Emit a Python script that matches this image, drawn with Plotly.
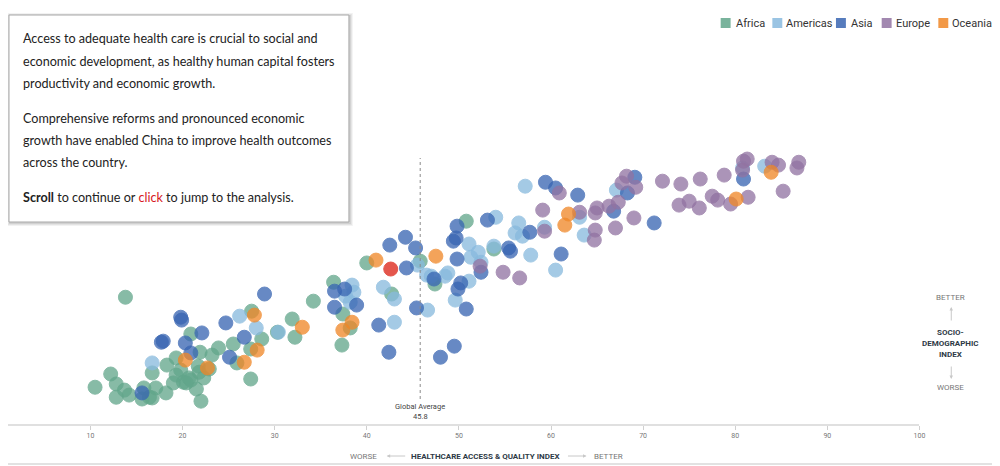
import plotly.graph_objects as go

# ---------------- data (HAQ index, socio-demographic index) ----------------
africa_haq = [13.8, 20.9, 21.9, 23.2, 19.3, 18.3, 21.7, 22.9, 19.8, 12.2, 16.7, 19.3, 21.8, 22.3,
              20.7, 20.1, 19.0, 12.8, 10.5, 17.1, 13.7, 15.8, 18.2, 21.5, 14.2, 16.4, 16.7, 12.8,
              15.6, 22.0, 20.4, 20.9, 27.5, 31.9, 30.3, 28.6, 32.2, 25.5, 23.9, 27.4, 25.9, 27.4,
              34.2, 36.4, 37.4, 38.2, 37.3, 42.7, 40.0, 45.8, 47.4, 50.8, 53.8]
africa_sdi = [0.488, 0.385, 0.334, 0.326, 0.318, 0.298, 0.295, 0.287, 0.284, 0.273, 0.276, 0.270,
              0.278, 0.262, 0.262, 0.250, 0.248, 0.245, 0.236, 0.234, 0.228, 0.234, 0.220, 0.231,
              0.214, 0.208, 0.206, 0.208, 0.203, 0.197, 0.248, 0.256, 0.449, 0.427, 0.390, 0.371,
              0.376, 0.357, 0.346, 0.343, 0.304, 0.259, 0.477, 0.530, 0.441, 0.402, 0.354, 0.497,
              0.584, 0.589, 0.525, 0.701, 0.623]

americas_haq = [16.7, 26.2, 28.0, 30.4, 38.4, 38.6, 37.7, 38.2, 43.0, 41.8, 43.0, 45.5, 46.5, 47.0,
                48.5, 48.8, 46.6, 51.1, 49.6, 51.1, 51.3, 52.1, 52.4, 53.8, 54.0, 56.5, 56.1, 56.9,
                57.8, 59.3, 60.5, 57.2, 63.1, 63.6, 67.1, 80.8, 83.2]
americas_sdi = [0.304, 0.435, 0.402, 0.390, 0.522, 0.502, 0.491, 0.474, 0.418, 0.516, 0.483, 0.578,
                0.550, 0.547, 0.547, 0.556, 0.452, 0.533, 0.480, 0.637, 0.600, 0.614, 0.586, 0.631,
                0.712, 0.696, 0.668, 0.659, 0.606, 0.684, 0.564, 0.799, 0.712, 0.662, 0.788, 0.850,
                0.855]

asia_haq = [19.8, 19.9, 17.7, 17.9, 20.3, 22.1, 20.9, 15.6, 28.9, 24.7, 26.7, 25.1, 36.5, 37.6,
            36.5, 38.9, 41.3, 42.4, 42.5, 44.2, 45.3, 44.3, 47.3, 45.4, 48.0, 49.5, 49.8, 49.4,
            49.7, 49.8, 50.2, 49.9, 50.8, 53.1, 52.4, 55.4, 55.6, 57.7, 61.1, 59.4, 60.5, 62.9,
            66.8, 68.3, 69.1, 71.2, 80.9]
asia_sdi = [0.432, 0.424, 0.362, 0.365, 0.360, 0.388, 0.332, 0.220, 0.497, 0.416, 0.376, 0.320,
            0.505, 0.511, 0.460, 0.466, 0.410, 0.334, 0.634, 0.656, 0.626, 0.570, 0.539, 0.458,
            0.320, 0.351, 0.687, 0.645, 0.654, 0.595, 0.528, 0.511, 0.455, 0.704, 0.558, 0.626,
            0.617, 0.670, 0.609, 0.810, 0.794, 0.774, 0.729, 0.780, 0.824, 0.696, 0.819]

europe_haq = [52.3, 54.8, 56.6, 59.3, 59.1, 60.9, 63.1, 64.8, 64.7, 65.0, 64.8, 66.3, 67.3, 67.0,
              69.0, 67.7, 68.2, 69.2, 72.1, 74.1, 76.2, 78.8, 73.9, 75.0, 76.1, 77.5, 78.1, 79.5,
              81.4, 85.2, 80.8, 81.3, 80.9, 84.0, 84.7, 86.9, 86.7]
europe_sdi = [0.575, 0.558, 0.542, 0.673, 0.732, 0.780, 0.726, 0.676, 0.648, 0.738, 0.724, 0.743,
              0.754, 0.682, 0.710, 0.808, 0.827, 0.796, 0.813, 0.805, 0.819, 0.830, 0.746, 0.757,
              0.738, 0.771, 0.760, 0.749, 0.768, 0.785, 0.844, 0.875, 0.869, 0.866, 0.858, 0.866,
              0.850]

oceania_haq = [20.3, 22.7, 27.8, 28.1, 26.7, 33.0, 38.4, 37.4, 41.0, 47.5, 61.9, 61.5, 80.1, 83.9]
oceania_sdi = [0.312, 0.290, 0.438, 0.340, 0.306, 0.404, 0.418, 0.396, 0.592, 0.603, 0.721, 0.690,
               0.763, 0.838]

china_haq = [42.6]
china_sdi = [0.567]

global_average = 45.8
x_ticks = [10, 20, 30, 40, 50, 60, 70, 80, 90, 100]

regions = ["Africa", "Americas", "Asia", "Europe", "Oceania"]
colors = {"Africa": "#62a68b", "Americas": "#88bade", "Asia": "#3865b2",
          "Europe": "#9273a2", "Oceania": "#f08727", "China": "#e0392d"}
series = {"Africa": (africa_haq, africa_sdi), "Americas": (americas_haq, americas_sdi),
          "Asia": (asia_haq, asia_sdi), "Europe": (europe_haq, europe_sdi),
          "Oceania": (oceania_haq, oceania_sdi)}

fig = go.Figure()
for r in regions:
    xs, ys = series[r]
    fig.add_trace(go.Scatter(x=xs, y=ys, mode="markers", name=r, showlegend=False,
                             marker=dict(size=14, color=colors[r], opacity=0.76,
                                         line=dict(width=1, color=colors[r]))))
fig.add_trace(go.Scatter(x=china_haq, y=china_sdi, mode="markers", name="China", showlegend=False,
                         marker=dict(size=14, color=colors["China"], opacity=0.85,
                                     line=dict(width=1, color=colors["China"]))))

# the page body has an 8px margin, so the figure is drawn at (8, 8)
OFF = 8
W, H = 1000 - OFF, 466 - OFF


def px(x):
    return (x - OFF) / W


def py(y):
    return (H - (y - OFF)) / H


shapes = []
annotations = []


def label(x, y, text, size=8, color="#777", xanchor="center", family="Roboto", xref="paper"):
    annotations.append(dict(x=x, y=y, xref=xref, yref="paper", text=text, showarrow=False,
                            xanchor=xanchor, yanchor="middle",
                            font=dict(family=family, size=size, color=color)))


# global average line
shapes.append(dict(type="line", xref="x", yref="paper", x0=global_average, x1=global_average,
                   y0=py(399), y1=py(158), line=dict(color="#8a8a8a", width=1, dash="3px,3px")))
label(global_average, py(406), "Global Average", size=7.5, color="#444", xref="x")
label(global_average, py(416), "45.8", size=7.5, color="#444", xref="x")

# bottom border line
shapes.append(dict(type="line", xref="paper", yref="paper", x0=0, x1=1, y0=py(464), y1=py(464),
                   line=dict(color="#e2e2e2", width=2)))

# legend (drawn as swatches and labels)
legend_pos = {"Africa": (730, 738), "Americas": (782, 789), "Asia": (846, 854),
              "Europe": (892, 899), "Oceania": (949, 956)}
for r in regions:
    mx, tx = legend_pos[r]
    shapes.append(dict(type="rect", xref="paper", yref="paper", x0=px(mx - 5), x1=px(mx + 5),
                       y0=py(28), y1=py(18), fillcolor=colors[r], opacity=0.85,
                       line=dict(width=0)))
    label(px(tx), py(23), r, size=11, color="#333", xanchor="left")

# text box with shadow
for i, op in enumerate([0.05, 0.06, 0.08]):
    d = 3 - i
    shapes.append(dict(type="rect", xref="paper", yref="paper", x0=px(9 - d + 1), x1=px(351 + d + 1),
                       y0=py(222 + d + 1), y1=py(15 - d + 1), fillcolor="rgba(0,0,0,%.2f)" % op,
                       line=dict(width=0), layer="above"))
shapes.append(dict(type="rect", xref="paper", yref="paper", x0=px(9), x1=px(351), y0=py(222), y1=py(15),
                   fillcolor="white", line=dict(color="#a8a8a8", width=1), layer="above"))

box_lines = [
    (38, "Access to adequate health care is crucial to social and"),
    (61, "economic development, as healthy human capital fosters"),
    (83, "productivity and economic growth."),
    (118, "Comprehensive reforms and pronounced economic"),
    (141, "growth have enabled China to improve health outcomes"),
    (163, "across the country."),
    (198, "<b>Scroll</b> to continue or <span style='color:#d7191c'>click</span> to jump to the analysis."),
]
for yy, t in box_lines:
    label(px(21), py(yy), t, size=12.6, color="#222", xanchor="left", family="Lato")

arrow_style = dict(showarrow=True, arrowhead=2, arrowsize=0.7, arrowwidth=1, arrowcolor="#c8c8c8",
                   text="", xref="paper", yref="paper")

# x-axis title with arrows
label(px(366), py(456), "WORSE")
label(px(488), py(456), "<b>HEALTHCARE ACCESS & QUALITY INDEX</b>", color="#2e3a46")
label(px(612), py(456), "BETTER")
annotations.append(dict(x=px(389), y=py(456), ax=20, ay=0, **arrow_style))
annotations.append(dict(x=px(590), y=py(456), ax=-20, ay=0, **arrow_style))

# right-side y label
label(px(956), py(297), "BETTER")
label(px(956), py(332), "<b>SOCIO-</b>", color="#2e3a46")
label(px(956), py(343), "<b>DEMOGRAPHIC</b>", color="#2e3a46")
label(px(956), py(354), "<b>INDEX</b>", color="#2e3a46")
label(px(956), py(388), "WORSE")
annotations.append(dict(x=px(957), y=py(307), ax=0, ay=15, **arrow_style))
annotations.append(dict(x=px(957), y=py(379), ax=0, ay=-14, **arrow_style))

# plot area: reference pixels x 8..925 (HAQ ~1.05..100), y 8..424 (SDI ~1.298..0.133)
fig.update_layout(
    width=W, height=H,
    margin=dict(l=0, r=0, t=0, b=0),
    paper_bgcolor="white", plot_bgcolor="white",
    showlegend=False,
    shapes=shapes, annotations=annotations,
    xaxis=dict(domain=[0, (925 - OFF) / W], range=[1.05, 100], tickvals=x_ticks,
               ticktext=[str(v) for v in x_ticks], showgrid=False, zeroline=False,
               showline=True, linecolor="#e0e0e0", linewidth=2, ticks="outside",
               ticklen=4, tickwidth=1, tickcolor="#d0d0d0",
               tickfont=dict(family="Roboto", size=7, color="#777")),
    yaxis=dict(domain=[py(424), 1], range=[0.133, 1.298], visible=False),
)

fig.write_html("out.html", config={"displayModeBar": False})
